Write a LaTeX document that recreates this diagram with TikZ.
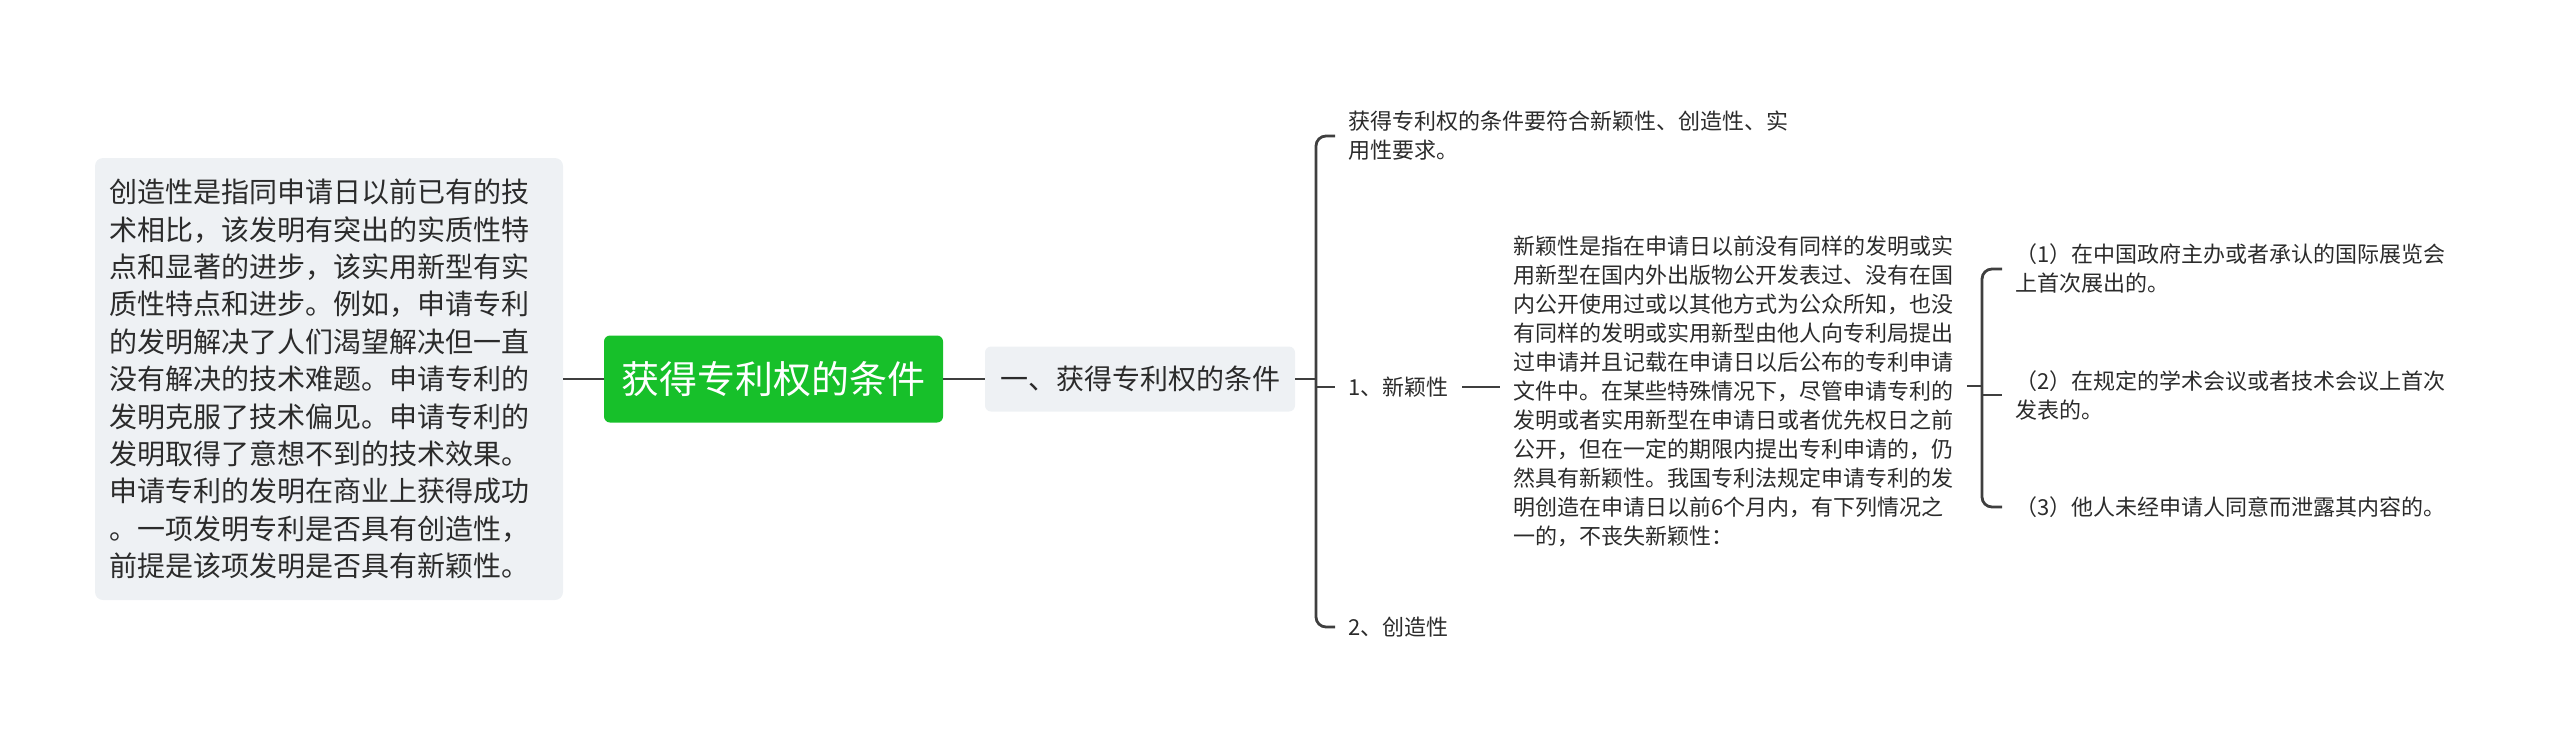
\documentclass[tikz,border=0pt]{standalone}
\usepackage{fontspec}
\setmainfont{Noto Sans CJK SC}
\definecolor{rootgreen}{HTML}{17C02A}
\definecolor{boxgray}{HTML}{EEF1F4}
\definecolor{linegray}{HTML}{3F3F3F}
\definecolor{txtgray}{HTML}{2B2B2B}
\tikzset{
  conn/.style={draw=linegray, line width=1.4pt},
  rootbox/.style={fill=rootgreen, rounded corners=3pt, text=white,
    minimum width=169.5pt, minimum height=43.5pt,
    font={\fontsize{19pt}{23pt}\selectfont}},
  subbox/.style={fill=boxgray, rounded corners=3pt, text=txtgray,
    minimum width=155pt, minimum height=32.5pt,
    font={\fontsize{14pt}{17pt}\selectfont}},
  notebox/.style={fill=boxgray, rounded corners=4pt, text=txtgray,
    text width=220pt, inner xsep=7pt, minimum height=221pt, align=left,
    font={\fontsize{14pt}{18.7pt}\selectfont}},
  leaf/.style={anchor=west, inner xsep=6.5pt, inner ysep=2pt, align=left,
    text=txtgray, font={\fontsize{11pt}{14.5pt}\selectfont}}
}
\begin{document}
\begin{tikzpicture}[x=0.5pt, y=-0.5pt]
  % canvas, pixel units
  \useasboundingbox (0,0) rectangle (2560,745);
  % centre topic and the note on its left
  \node[rootbox] (root) at (773.5,379) {获得专利权的条件};
  \node[notebox] (note) at (329,379) {创造性是指同申请日以前已有的技\\
    术相比，该发明有突出的实质性特\\
    点和显著的进步，该实用新型有实\\
    质性特点和进步。例如，申请专利\\
    的发明解决了人们渴望解决但一直\\
    没有解决的技术难题。申请专利的\\
    发明克服了技术偏见。申请专利的\\
    发明取得了意想不到的技术效果。\\
    申请专利的发明在商业上获得成功\\
    。一项发明专利是否具有创造性，\\
    前提是该项发明是否具有新颖性。};
  \node[subbox] (sub) at (1140,379) {一、获得专利权的条件};
  \draw[conn] (note) -- (root);
  \draw[conn] (root) -- (sub);
  % first fork
  \node[leaf] (req) at (1335,136) {获得专利权的条件要符合新颖性、创造性、实\\用性要求。};
  \node[leaf] (novel) at (1335,387) {1、新颖性};
  \node[leaf] (creat) at (1335,627) {2、创造性};
  \coordinate (fork1) at (1316,379);
  \draw[conn] (sub.east) -- (fork1);
  \draw[conn, rounded corners=5pt] (req.west) -| (fork1) |- (creat.west);
  \draw[conn] (fork1 |- novel.west) -- (novel.west);
  % novelty text
  \node[leaf] (novtext) at (1500,391) {新颖性是指在申请日以前没有同样的发明或实\\
    用新型在国内外出版物公开发表过、没有在国\\
    内公开使用过或以其他方式为公众所知，也没\\
    有同样的发明或实用新型由他人向专利局提出\\
    过申请并且记载在申请日以后公布的专利申请\\
    文件中。在某些特殊情况下，尽管申请专利的\\
    发明或者实用新型在申请日或者优先权日之前\\
    公开，但在一定的期限内提出专利申请的，仍\\
    然具有新颖性。我国专利法规定申请专利的发\\
    明创造在申请日以前6个月内，有下列情况之\\
    一的，不丧失新颖性：};
  \draw[conn] (novel.east) -- (novel.east -| novtext.west);
  % second fork
  \node[leaf] (item1) at (2002,269) {（1）在中国政府主办或者承认的国际展览会\\上首次展出的。};
  \node[leaf] (item2) at (2002,395) {（2）在规定的学术会议或者技术会议上首次\\发表的。};
  \node[leaf] (item3) at (2002,507) {（3）他人未经申请人同意而泄露其内容的。};
  \coordinate (fork2) at (1982,386);
  \draw[conn] (novtext.east |- fork2) -- (fork2);
  \draw[conn, rounded corners=5pt] (item1.west) -| (fork2) |- (item3.west);
  \draw[conn] (fork2 |- item2.west) -- (item2.west);
\end{tikzpicture}
\end{document}
